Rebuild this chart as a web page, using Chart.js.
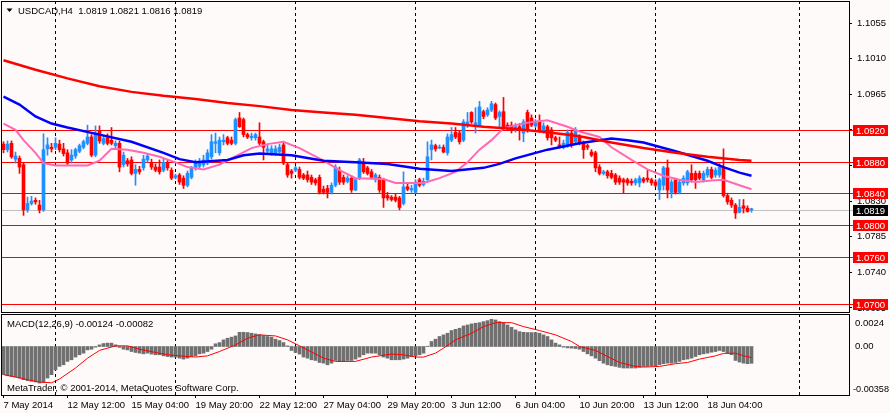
<!DOCTYPE html>
<html lang="en">
<head>
<meta charset="UTF-8">
<title>USDCAD,H4</title>
<script src="https://cdn.jsdelivr.net/npm/chart.js"></script>
<style>
  html, body { margin: 0; padding: 0; background: #FFFAFA; }
  .wrap { position: relative; width: 890px; height: 413px; overflow: hidden; background: #FFFAFA; }
  #priceChart { position: absolute; left: 0; top: 0; }
  #macdChart { position: absolute; left: 0; top: 313px; }
</style>
</head>
<body>
<div class="wrap">
  <canvas id="priceChart" width="890" height="313"></canvas>
  <canvas id="macdChart" width="890" height="100"></canvas>
</div>
<script>
// H4 candles, first bar 7 May 2014 20:00
const open = [
  1.0902,1.0895,1.0903,1.0883,1.0884,1.0876,1.0819,1.0827,1.0831,1.0825,
  1.0819,1.0896,1.0898,1.0898,1.0902,1.0896,1.0891,1.0882,1.0887,1.0893,
  1.0898,1.0903,1.0911,1.0888,1.0919,1.0903,1.0910,1.0907,1.0900,1.0903,
  1.0876,1.0881,1.0882,1.0865,1.0870,1.0872,1.0882,1.0879,1.0873,1.0873,
  1.0869,1.0878,1.0869,1.0860,1.0863,1.0859,1.0850,1.0860,1.0872,1.0874,
  1.0876,1.0878,1.0886,1.0903,1.0891,1.0905,1.0910,1.0907,1.0903,1.0935,
  1.0933,1.0914,1.0910,1.0910,1.0911,1.0905,1.0893,1.0891,1.0891,1.0892,
  1.0901,1.0876,1.0868,1.0869,1.0870,1.0863,1.0863,1.0860,1.0857,1.0860,
  1.0845,1.0846,1.0841,1.0850,1.0869,1.0860,1.0855,1.0859,1.0844,1.0859,
  1.0879,1.0872,1.0867,1.0857,1.0860,1.0857,1.0837,1.0835,1.0835,1.0834,
  1.0827,1.0848,1.0844,1.0841,1.0857,1.0851,1.0857,1.0895,1.0900,1.0897,
  1.0898,1.0891,1.0907,1.0917,1.0916,1.0907,1.0925,1.0942,1.0926,1.0926,
  1.0943,1.0939,1.0945,1.0952,1.0937,1.0943,1.0926,1.0926,1.0920,1.0924,
  1.0916,1.0942,1.0935,1.0925,1.0930,1.0919,1.0924,1.0920,1.0910,1.0901,
  1.0898,1.0901,1.0916,1.0905,1.0911,1.0903,1.0900,1.0892,1.0891,1.0873,
  1.0865,1.0867,1.0865,1.0863,1.0859,1.0857,1.0857,1.0855,1.0853,1.0853,
  1.0858,1.0859,1.0857,1.0854,1.0844,1.0850,1.0872,1.0841,1.0857,1.0841,
  1.0853,1.0853,1.0865,1.0865,1.0865,1.0857,1.0863,1.0870,1.0863,1.0863,
  1.0872,1.0837,1.0831,1.0825,1.0816,1.0824,1.0821,1.0819
];
const high = [
  1.0905,1.0906,1.0906,1.0892,1.0887,1.0878,1.0835,1.0836,1.0834,1.0831,
  1.0915,1.0910,1.0903,1.0910,1.0907,1.0903,1.0895,1.0895,1.0897,1.0902,
  1.0907,1.0926,1.0914,1.0925,1.0925,1.0912,1.0915,1.0923,1.0906,1.0906,
  1.0892,1.0884,1.0886,1.0876,1.0874,1.0888,1.0890,1.0883,1.0877,1.0882,
  1.0884,1.0882,1.0872,1.0864,1.0865,1.0862,1.0868,1.0874,1.0882,1.0884,
  1.0888,1.0895,1.0914,1.0916,1.0911,1.0914,1.0912,1.0911,1.0935,1.0942,
  1.0935,1.0916,1.0916,1.0916,1.0929,1.0907,1.0901,1.0900,1.0900,1.0902,
  1.0903,1.0879,1.0870,1.0874,1.0873,1.0865,1.0868,1.0863,1.0859,1.0863,
  1.0849,1.0850,1.0853,1.0876,1.0873,1.0863,1.0862,1.0862,1.0859,1.0884,
  1.0884,1.0874,1.0870,1.0865,1.0863,1.0859,1.0841,1.0837,1.0839,1.0836,
  1.0867,1.0853,1.0850,1.0857,1.0859,1.0859,1.0905,1.0907,1.0902,1.0901,
  1.0901,1.0915,1.0923,1.0923,1.0919,1.0933,1.0942,1.0943,1.0948,1.0956,
  1.0945,1.0948,1.0956,1.0954,1.0944,1.0961,1.0929,1.0930,1.0928,1.0928,
  1.0933,1.0945,1.0939,1.0933,1.0939,1.0929,1.0926,1.0923,1.0912,1.0911,
  1.0907,1.0920,1.0919,1.0923,1.0914,1.0906,1.0902,1.0895,1.0893,1.0876,
  1.0869,1.0869,1.0869,1.0865,1.0862,1.0859,1.0859,1.0858,1.0859,1.0862,
  1.0860,1.0869,1.0859,1.0857,1.0859,1.0874,1.0882,1.0857,1.0859,1.0857,
  1.0862,1.0869,1.0876,1.0868,1.0868,1.0868,1.0873,1.0873,1.0872,1.0878,
  1.0896,1.0840,1.0834,1.0827,1.0832,1.0832,1.0824,1.0821
];
const low = [
  1.0891,1.0892,1.0884,1.0878,1.0865,1.0812,1.0816,1.0825,1.0826,1.0815,
  1.0817,1.0888,1.0892,1.0895,1.0892,1.0887,1.0876,1.0878,1.0884,1.0891,
  1.0896,1.0901,1.0886,1.0886,1.0903,1.0901,1.0901,1.0901,1.0897,1.0867,
  1.0873,1.0874,1.0863,1.0850,1.0864,1.0869,1.0879,1.0870,1.0867,1.0864,
  1.0867,1.0869,1.0857,1.0858,1.0851,1.0846,1.0848,1.0858,1.0869,1.0872,
  1.0873,1.0876,1.0883,1.0891,1.0888,1.0901,1.0901,1.0901,1.0901,1.0923,
  1.0911,1.0909,1.0907,1.0907,1.0901,1.0882,1.0891,1.0888,1.0888,1.0891,
  1.0876,1.0860,1.0859,1.0867,1.0858,1.0857,1.0854,1.0851,1.0850,1.0839,
  1.0839,1.0834,1.0839,1.0848,1.0851,1.0851,1.0853,1.0841,1.0843,1.0857,
  1.0865,1.0863,1.0858,1.0854,1.0841,1.0822,1.0831,1.0830,1.0829,1.0819,
  1.0825,1.0843,1.0841,1.0840,1.0848,1.0849,1.0854,1.0882,1.0893,1.0896,
  1.0891,1.0888,1.0905,1.0909,1.0902,1.0905,1.0923,1.0928,1.0916,1.0924,
  1.0934,1.0937,1.0943,1.0933,1.0923,1.0920,1.0920,1.0916,1.0917,1.0907,
  1.0905,1.0917,1.0924,1.0923,1.0917,1.0916,1.0907,1.0901,1.0905,1.0897,
  1.0896,1.0898,1.0898,1.0902,1.0901,1.0884,1.0895,1.0886,1.0867,1.0863,
  1.0863,1.0859,1.0858,1.0851,1.0851,1.0840,1.0850,1.0850,1.0850,1.0848,
  1.0853,1.0854,1.0850,1.0848,1.0832,1.0844,1.0834,1.0834,1.0839,1.0839,
  1.0850,1.0850,1.0854,1.0846,1.0857,1.0854,1.0860,1.0858,1.0860,1.0860,
  1.0835,1.0826,1.0822,1.0808,1.0815,1.0815,1.0816,1.0816
];
const close = [
  1.0895,1.0902,1.0886,1.0887,1.0873,1.0819,1.0827,1.0830,1.0829,1.0819,
  1.0895,1.0901,1.0896,1.0903,1.0895,1.0890,1.0878,1.0888,1.0895,1.0900,
  1.0905,1.0911,1.0888,1.0916,1.0906,1.0909,1.0903,1.0903,1.0903,1.0873,
  1.0888,1.0877,1.0865,1.0870,1.0867,1.0883,1.0887,1.0873,1.0869,1.0867,
  1.0879,1.0872,1.0859,1.0862,1.0854,1.0850,1.0865,1.0872,1.0878,1.0879,
  1.0882,1.0891,1.0905,1.0905,1.0907,1.0907,1.0903,1.0903,1.0933,1.0924,
  1.0914,1.0911,1.0912,1.0914,1.0903,1.0898,1.0896,1.0896,1.0896,1.0898,
  1.0878,1.0863,1.0865,1.0872,1.0860,1.0859,1.0857,1.0854,1.0853,1.0841,
  1.0841,1.0841,1.0850,1.0873,1.0854,1.0854,1.0859,1.0844,1.0857,1.0882,
  1.0867,1.0865,1.0860,1.0863,1.0844,1.0834,1.0834,1.0832,1.0831,1.0822,
  1.0848,1.0845,1.0846,1.0854,1.0850,1.0855,1.0886,1.0901,1.0896,1.0898,
  1.0892,1.0911,1.0914,1.0911,1.0905,1.0930,1.0930,1.0930,1.0929,1.0949,
  1.0937,1.0945,1.0953,1.0935,1.0942,1.0924,1.0924,1.0919,1.0924,1.0919,
  1.0930,1.0920,1.0926,1.0929,1.0920,1.0925,1.0910,1.0910,1.0907,1.0898,
  1.0903,1.0917,1.0901,1.0920,1.0903,1.0895,1.0898,1.0888,1.0872,1.0865,
  1.0867,1.0862,1.0860,1.0854,1.0854,1.0854,1.0853,1.0853,1.0857,1.0859,
  1.0855,1.0857,1.0853,1.0850,1.0857,1.0872,1.0844,1.0854,1.0841,1.0854,
  1.0859,1.0867,1.0857,1.0857,1.0859,1.0865,1.0870,1.0860,1.0869,1.0873,
  1.0837,1.0829,1.0825,1.0815,1.0822,1.0821,1.0817,1.0819
];

// moving averages, read at these bar numbers
const maSlowBars = [0,8,16,24,32,40,48,56,64,72,80,88,96,104,112,120,128,136,144,152,160,168,176,184,187];
const maSlow = [1.1008,1.0996,1.0985,1.0975,1.0968,1.0963,1.0959,1.0954,1.0950,1.0945,1.0942,1.0939,1.0935,
  1.0931,1.0928,1.0924,1.0921,1.0917,1.0912,1.0904,1.0897,1.0891,1.0886,1.0882,1.0881];
const maMidBars = [0,4,8,12,16,24,32,40,44,48,56,60,64,72,80,88,96,104,112,120,124,128,136,144,152,156,160,168,176,180,184,187];
const maMid = [1.0962,1.0952,1.0937,1.0928,1.0923,1.0914,1.0905,1.0891,1.0883,1.0879,1.0882,1.0888,1.0890,1.0888,
  1.0881,1.0879,1.0877,1.0871,1.0868,1.0872,1.0877,1.0884,1.0895,1.0903,1.0909,1.0907,1.0904,1.0893,1.0881,
  1.0873,1.0866,1.0862];
const maFastBars = [0,3,5,8,10,13,21,24,27,31,35,39,43,46,50,54,57,62,66,70,74,80,84,88,95,98,105,109,113,116,
  119,122,125,128,132,136,141,144,149,152,157,161,165,169,173,177,180,184,187];
const maFast = [1.0928,1.0920,1.0907,1.0891,1.0878,1.0875,1.0875,1.0881,1.0896,1.0895,1.0891,1.0886,1.0879,1.0873,
  1.0870,1.0876,1.0884,1.0897,1.0902,1.0905,1.0897,1.0881,1.0869,1.0859,1.0858,1.0853,1.0853,1.0859,1.0867,1.0879,
  1.0895,1.0907,1.0922,1.0926,1.0930,1.0932,1.0924,1.0918,1.0911,1.0898,1.0882,1.0870,1.0862,1.0857,1.0854,1.0856,
  1.0857,1.0850,1.0845];

// MACD(12,26,9)
const macd = [
  -0.00208,-0.00216,-0.00221,-0.00225,-0.00233,-0.00245,-0.00252,-0.00257,-0.00262,-0.00270,
  -0.00265,-0.00233,-0.00208,-0.00172,-0.00147,-0.00135,-0.00110,-0.00098,-0.00078,-0.00061,
  -0.00049,-0.00025,-0.00020,-0.00005,0.00012,0.00022,0.00025,0.00025,0.00012,-0.00007,
  -0.00020,-0.00025,-0.00037,-0.00044,-0.00049,-0.00054,-0.00049,-0.00056,-0.00061,-0.00061,
  -0.00069,-0.00074,-0.00078,-0.00078,-0.00086,-0.00093,-0.00086,-0.00074,-0.00069,-0.00054,
  -0.00049,-0.00037,-0.00020,0.00020,0.00029,0.00049,0.00061,0.00069,0.00078,0.00105,
  0.00105,0.00103,0.00098,0.00093,0.00088,0.00081,0.00074,0.00069,0.00054,0.00044,
  0.00029,0.00005,-0.00029,-0.00044,-0.00056,-0.00078,-0.00086,-0.00098,-0.00103,-0.00118,
  -0.00123,-0.00135,-0.00123,-0.00103,-0.00110,-0.00110,-0.00103,-0.00103,-0.00093,-0.00078,
  -0.00061,-0.00049,-0.00049,-0.00049,-0.00061,-0.00078,-0.00086,-0.00098,-0.00098,-0.00098,
  -0.00093,-0.00086,-0.00074,-0.00069,-0.00061,-0.00049,0.00002,0.00037,0.00054,0.00074,
  0.00086,0.00098,0.00118,0.00127,0.00135,0.00152,0.00159,0.00167,0.00172,0.00176,
  0.00184,0.00191,0.00201,0.00196,0.00184,0.00176,0.00159,0.00142,0.00123,0.00110,
  0.00105,0.00103,0.00103,0.00103,0.00098,0.00086,0.00074,0.00049,0.00025,0.00012,
  -0.00005,-0.00010,-0.00012,-0.00015,-0.00020,-0.00037,-0.00054,-0.00069,-0.00086,-0.00105,
  -0.00123,-0.00135,-0.00142,-0.00147,-0.00154,-0.00159,-0.00159,-0.00159,-0.00159,-0.00154,
  -0.00147,-0.00147,-0.00142,-0.00142,-0.00135,-0.00127,-0.00123,-0.00123,-0.00118,-0.00110,
  -0.00098,-0.00093,-0.00086,-0.00074,-0.00061,-0.00054,-0.00049,-0.00042,-0.00037,-0.00029,
  -0.00037,-0.00049,-0.00061,-0.00103,-0.00115,-0.00123,-0.00127,-0.00124
];
const signalBars = [0,3,6,9,12,14,18,21,24,28,31,34,38,41,44,48,51,54,58,61,64,68,71,74,76,80,83,88,92,97,
  100,103,105,108,110,113,117,120,123,127,130,134,138,142,144,148,151,154,158,160,164,168,171,174,178,180,183,185,187];
const signal = [-0.00208,-0.00225,-0.00245,-0.00262,-0.00268,-0.00240,-0.00159,-0.00086,-0.00029,0.00005,
  0.00005,-0.00020,-0.00044,-0.00061,-0.00069,-0.00078,-0.00069,-0.00037,0.00012,0.00061,
  0.00086,0.00078,0.00049,0.00005,-0.00025,-0.00086,-0.00110,-0.00110,-0.00078,-0.00056,
  -0.00061,-0.00078,-0.00078,-0.00049,-0.00012,0.00049,0.00098,0.00147,0.00176,0.00176,
  0.00147,0.00118,0.00086,0.00037,0.00000,-0.00029,-0.00074,-0.00118,-0.00147,-0.00152,
  -0.00147,-0.00127,-0.00118,-0.00093,-0.00069,-0.00051,-0.00049,-0.00069,-0.00082];

// axes, levels
const timeLabels = ['7 May 2014','12 May 12:00','15 May 04:00','19 May 20:00','22 May 12:00','27 May 04:00',
  '29 May 20:00','3 Jun 12:00','6 Jun 04:00','10 Jun 20:00','13 Jun 12:00','18 Jun 04:00'];
const labelBars = [0,16,32,48,64,80,96,112,128,144,160,176];
const gridBars = [13,43,73,103,133,163,199];
const priceTicks = [1.1055,1.1010,1.0965,1.0920,1.0875,1.0830,1.0785,1.0740,1.0695];
const levels = [1.0920,1.0880,1.0840,1.0800,1.0760,1.0700];

const FONT = '"Liberation Sans", Arial, sans-serif';
const FSIZE = 9.5;
Chart.defaults.font.family = FONT;
Chart.defaults.font.size = FSIZE;
Chart.defaults.color = '#000';

const UP = '#1E90FF', DOWN = '#FF0000';
const X_MIN = -0.625, X_MAX = 211.375;
const last = close.length - 1;
const candleColor = ctx => close[ctx.dataIndex] >= open[ctx.dataIndex] ? UP : DOWN;
const pts = (xs, ys) => xs.map((x, k) => ({ x: x, y: ys[k] }));

function drawGridColumns(chart) {
  const { ctx, chartArea: a, scales: { x } } = chart;
  ctx.save();
  ctx.strokeStyle = '#000';
  ctx.lineWidth = 1;
  ctx.setLineDash([3, 3]);
  gridBars.forEach(b => {
    const px = Math.floor(x.getPixelForValue(b)) + 0.5;
    ctx.beginPath();
    ctx.moveTo(px, a.top);
    ctx.lineTo(px, a.bottom);
    ctx.stroke();
  });
  ctx.restore();
}

function drawFrame(chart) {
  const { ctx, chartArea: a } = chart;
  ctx.save();
  ctx.strokeStyle = '#000';
  ctx.lineWidth = 1;
  ctx.strokeRect(a.left + 0.5, a.top + 0.5, a.right - a.left, a.bottom - a.top);
  ctx.restore();
}

const pricePanel = {
  id: 'pricePanel',
  beforeDatasetsDraw(chart) {
    const { ctx, chartArea: a, scales: { y } } = chart;
    drawGridColumns(chart);
    ctx.save();
    ctx.lineWidth = 1;
    ctx.strokeStyle = '#C0C0C0';
    let py = Math.round(y.getPixelForValue(close[last])) + 0.5;
    ctx.beginPath(); ctx.moveTo(a.left, py); ctx.lineTo(853, py); ctx.stroke();
    ctx.strokeStyle = '#FF0000';
    levels.forEach(v => {
      py = Math.round(y.getPixelForValue(v)) + 0.5;
      ctx.beginPath(); ctx.moveTo(a.left, py); ctx.lineTo(853, py); ctx.stroke();
    });
    ctx.restore();
  },
  afterDraw(chart) {
    const { ctx, scales: { y } } = chart;
    drawFrame(chart);
    ctx.save();
    ctx.font = FSIZE + 'px ' + FONT;
    ctx.textBaseline = 'middle';
    const box = (v, bg) => {
      const py = Math.round(y.getPixelForValue(v));
      ctx.fillStyle = bg;
      ctx.fillRect(853, py - 5, 35, 11);
      ctx.fillStyle = '#FFFFFF';
      ctx.fillText(v.toFixed(4), 856, py + 1);
    };
    levels.forEach(v => box(v, '#FF0000'));
    box(close[last], '#000000');

    // symbol header
    ctx.fillStyle = '#000';
    ctx.beginPath();
    ctx.moveTo(6.5, 8.5); ctx.lineTo(12.5, 8.5); ctx.lineTo(9.5, 12);
    ctx.closePath(); ctx.fill();
    const ohlc = [open[last], high[last], low[last], close[last]].map(v => v.toFixed(4)).join(' ');
    ctx.fillText('USDCAD,H4  ' + ohlc, 18, 11);
    ctx.restore();
  }
};

const macdPanel = {
  id: 'macdPanel',
  beforeDatasetsDraw(chart) {
    drawGridColumns(chart);
  },
  afterDraw(chart) {
    const { ctx, chartArea: a, scales: { y } } = chart;
    drawFrame(chart);
    ctx.save();
    ctx.font = FSIZE + 'px ' + FONT;
    ctx.textBaseline = 'middle';
    ctx.fillStyle = '#000';
    ctx.fillText(y.max.toFixed(4), 855, y.getPixelForValue(y.max) + 9);
    ctx.fillText('0.00', 855, y.getPixelForValue(0));
    ctx.fillText(y.min.toFixed(5), 853, y.getPixelForValue(y.min) - 6, 36);
    ctx.fillText('MACD(12,26,9) ' + macd[last].toFixed(5) + ' ' + signal[signal.length - 1].toFixed(5), 7, a.top + 10);
    ctx.fillText('MetaTrader, \u00A9 2001-2014, MetaQuotes Software Corp.', 7, a.bottom - 7);
    ctx.restore();
  }
};

new Chart(document.getElementById('priceChart'), {
  type: 'bar',
  data: {
    datasets: [
      { type: 'line', data: pts(maSlowBars, maSlow), borderColor: '#FF0000', borderWidth: 2.5, pointRadius: 0, order: 0 },
      { type: 'line', data: pts(maMidBars, maMid), borderColor: '#0000FF', borderWidth: 2.5, pointRadius: 0, order: 0 },
      { type: 'line', data: pts(maFastBars, maFast), borderColor: '#FF69B4', borderWidth: 2, pointRadius: 0, order: 0 },
      { data: open.map((o, i) => ({ x: i, y: [open[i], close[i]] })), backgroundColor: candleColor,
        barThickness: 3, minBarLength: 1, grouped: false, order: 1 },
      { data: open.map((o, i) => ({ x: i, y: [low[i], high[i]] })), backgroundColor: candleColor,
        barThickness: 1, grouped: false, order: 2 }
    ]
  },
  options: {
    responsive: false,
    animation: false,
    events: [],
    layout: { padding: { left: 1, top: 1, right: 0, bottom: 1 } },
    plugins: { legend: { display: false }, tooltip: { enabled: false } },
    scales: {
      x: { type: 'linear', min: X_MIN, max: X_MAX, offset: false, display: false, grid: { offset: false } },
      y: {
        position: 'right', min: 1.06899, max: 1.10828, bounds: 'data',
        afterBuildTicks: s => { s.ticks = priceTicks.map(v => ({ value: v })); },
        afterFit: s => { s.width = 41; s.paddingTop = 0; s.paddingBottom = 0; },
        ticks: { callback: v => v.toFixed(4), padding: 5, color: '#000' },
        grid: { drawOnChartArea: false, tickLength: 3, color: '#000' },
        border: { display: false }
      }
    }
  },
  plugins: [pricePanel]
});

new Chart(document.getElementById('macdChart'), {
  type: 'bar',
  data: {
    datasets: [
      { type: 'line', data: pts(signalBars, signal), borderColor: '#FF0000', borderWidth: 1, pointRadius: 0, order: 0 },
      { data: macd.map((v, i) => ({ x: i, y: v })), backgroundColor: '#707070', barThickness: 3, grouped: false, order: 1 }
    ]
  },
  options: {
    responsive: false,
    animation: false,
    events: [],
    layout: { padding: { left: 1, top: 1, right: 0, bottom: 0 } },
    plugins: { legend: { display: false }, tooltip: { enabled: false } },
    scales: {
      x: {
        type: 'linear', min: X_MIN, max: X_MAX, offset: false, bounds: 'data',
        afterBuildTicks: s => { s.ticks = labelBars.map(v => ({ value: v })); },
        afterFit: s => { s.height = 18; s.paddingLeft = 0; s.paddingRight = 0; },
        ticks: { callback: (v, i) => timeLabels[i], align: 'start', autoSkip: false, maxRotation: 0, minRotation: 0, padding: 2, color: '#000' },
        grid: { drawOnChartArea: false, tickLength: 3, color: '#000', offset: false },
        border: { display: false }
      },
      y: {
        position: 'right', min: -0.00358, max: 0.0024, bounds: 'data',
        afterFit: s => { s.width = 41; s.paddingTop = 0; s.paddingBottom = 0; },
        ticks: { display: false },
        grid: { display: false },
        border: { display: false }
      }
    }
  },
  plugins: [macdPanel]
});
</script>
</body>
</html>
